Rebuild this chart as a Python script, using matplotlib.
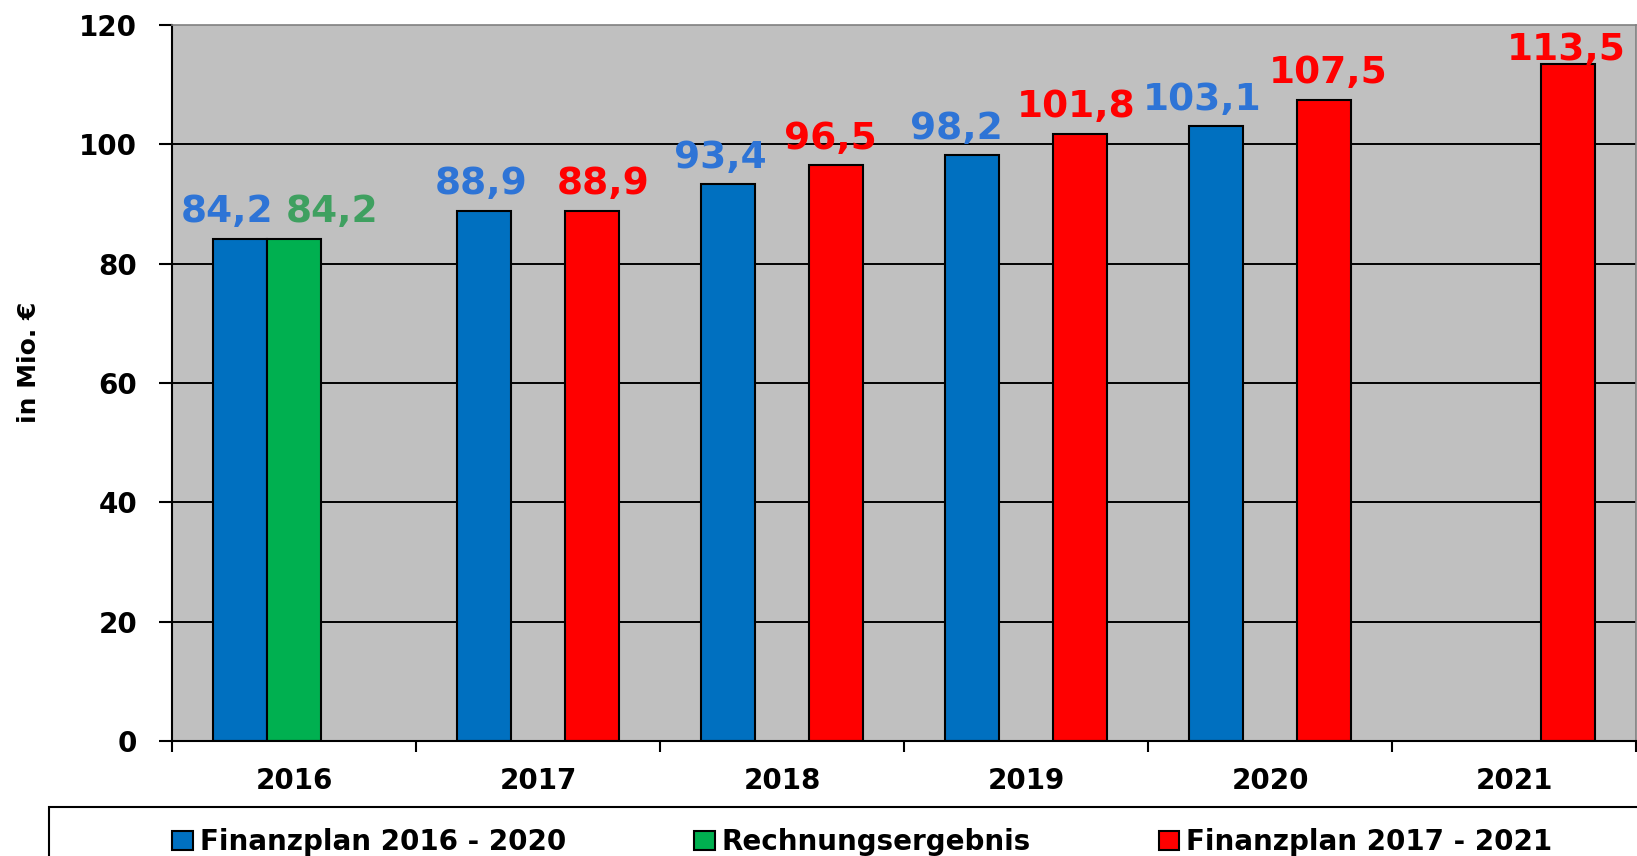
import numpy as np
import matplotlib
matplotlib.use('Agg')
import matplotlib.pyplot as plt
from matplotlib.patches import Patch, Rectangle

# Daten
jahre = ['2016', '2017', '2018', '2019', '2020', '2021']
finanzplan_16_20 = [84.2, 88.9, 93.4, 98.2, 103.1, np.nan]
rechnungsergebnis = [84.2, np.nan, np.nan, np.nan, np.nan, np.nan]
finanzplan_17_21 = [np.nan, 88.9, 96.5, 101.8, 107.5, 113.5]
serien_namen = ['Finanzplan 2016 - 2020', 'Rechnungsergebnis', 'Finanzplan 2017 - 2021']
y_ticks = [0, 20, 40, 60, 80, 100, 120]

# Farben
bar_farben = ['#0070C0', '#00B050', '#FF0000']
label_farben = ['#2E74D6', '#3FA060', '#FF0000']

# kleine Verschiebungen der Wertbeschriftungen (Pixel), damit sie sich nicht ueberlappen
label_nudge = [[-13, -3, -8, -15, -14, 0],
               [38, 0, 0, 0, 0, 0],
               [0, 11, -6, -4, 4, -2]]

plt.rcParams['font.family'] = ['DejaVu Sans']

W, H = 1637, 856
fig = plt.figure(figsize=(W / 100, H / 100), dpi=100)
ax = fig.add_axes([172 / W, 1 - 741 / H, 1464 / W, 716 / H])
ax.set_facecolor('#C0C0C0')

x = np.arange(len(jahre))
breite = 0.222
serien = [finanzplan_16_20, rechnungsergebnis, finanzplan_17_21]

# Gitterlinien
for t in y_ticks[1:-1]:
    ax.axhline(t, color='black', lw=1.4, zorder=1)

for i, (werte, farbe) in enumerate(zip(serien, bar_farben)):
    pos = x + (i - 1) * breite
    ax.bar(pos, werte, width=breite, color=farbe, edgecolor='black',
           linewidth=1.5, zorder=2)
    for j, v in enumerate(werte):
        if np.isnan(v):
            continue
        y_txt = min(v + 2.7, 114.1)
        ax.annotate(f'{v:.1f}'.replace('.', ','), (pos[j], y_txt),
                    xytext=(label_nudge[i][j] * 0.72, 0), textcoords='offset points',
                    ha='center', va='baseline', fontsize=27, fontweight='bold',
                    color=label_farben[i], zorder=3)

ax.set_xlim(-0.5, len(jahre) - 0.5)
ax.set_ylim(0, 120)
ax.set_yticks(y_ticks)
ax.set_yticklabels([str(t) for t in y_ticks], fontsize=20, fontweight='bold')
ax.tick_params(axis='y', length=9.5, width=1.5, pad=15.5)

# x-Achse: Striche zwischen den Jahren, Beschriftung in der Mitte
ax.set_xticks(np.arange(-0.5, len(jahre)))
ax.set_xticklabels([])
ax.tick_params(axis='x', which='major', length=8, width=1.5)
ax.set_xticks(x, minor=True)
ax.set_xticklabels(jahre, minor=True, fontsize=20, fontweight='bold')
ax.tick_params(axis='x', which='minor', length=0, pad=19)

for s in ['left', 'bottom']:
    ax.spines[s].set_color('black')
    ax.spines[s].set_linewidth(1.5)
for s in ['top', 'right']:
    ax.spines[s].set_color('#808080')
    ax.spines[s].set_linewidth(1.2)

fig.text(29 / W, 1 - 362 / H, 'in Mio. €', rotation=90, ha='center', va='center',
         fontsize=18, fontweight='bold')

# Legende mit Rahmen, der unten und rechts aus dem Bild laeuft
fig.patches.append(Rectangle((49 / W, -0.1), 1.0, (1 - 807 / H) + 0.1,
                             transform=fig.transFigure, fill=False,
                             edgecolor='black', linewidth=1.5))
handles = [Patch(facecolor=c, edgecolor='black', linewidth=1.5) for c in bar_farben]
fig.legend(handles, serien_namen, loc='center left',
           bbox_to_anchor=(172 / W, 1 - 842 / H), ncol=3, frameon=False,
           borderpad=0, borderaxespad=0, handlelength=0.75, handleheight=0.65,
           handletextpad=0.25, columnspacing=4.6,
           prop=dict(weight='bold', size=20))

fig.savefig('out.png', dpi=100)
